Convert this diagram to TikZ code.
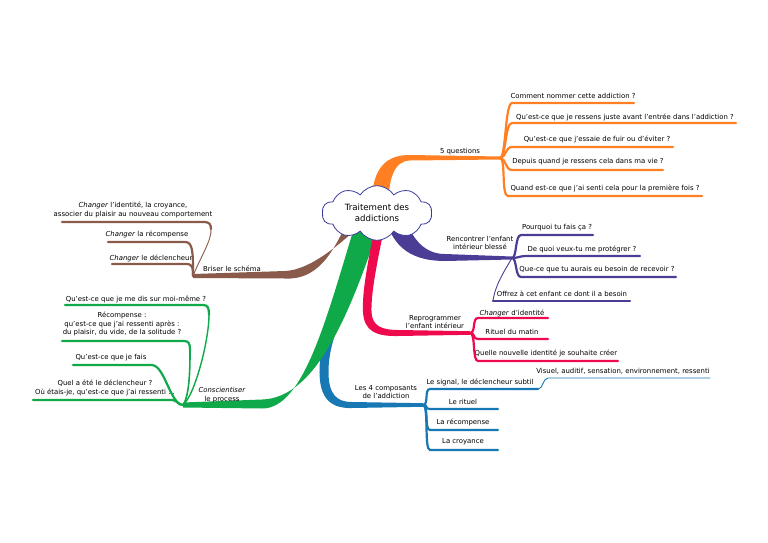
\documentclass[tikz,border=0pt]{standalone}
\usepackage{fontspec}
\setmainfont{DejaVu Sans}
\usetikzlibrary{shapes.symbols}
\definecolor{orng}{HTML}{FF7F22}
\definecolor{purp}{HTML}{4B3D95}
\definecolor{redd}{HTML}{EE0A4C}
\definecolor{blu}{HTML}{1778B4}
\definecolor{grn}{HTML}{10A94A}
\definecolor{brwn}{HTML}{8A5A4A}
\definecolor{cloudc}{HTML}{3C3C9C}

\begin{document}
\begin{tikzpicture}[x=1pt,y=-1pt,
  lbl/.style={font=\fontsize{6.9}{8.8}\selectfont,align=center,inner sep=0pt},
  kid/.style={line width=2.2pt,line cap=round},
  thin/.style={line width=0.9pt,line cap=round}]
  \useasboundingbox (0,0) rectangle (768,543);

  \coordinate (c) at (377,213);
  \coordinate (of) at (500,158);
  \coordinate (pf) at (512,258);
  \coordinate (rf) at (470,333);
  \coordinate (bf) at (423,405);
  \coordinate (gf) at (183,405);
  \coordinate (brf) at (193,276);

  \fill[brwn] (350,215) .. controls (332,258) and (315,280) .. (285,278.5) -- ([yshift=-2pt]brf) -- ([yshift=2pt]brf) -- (285,271) .. controls (310,270) and (340,245) .. (368,218) -- cycle;
  \fill[blu] (369,215) .. controls (345,290) and (320,330) .. (319.5,370) .. controls (319,401) and (333,408.5) .. (352,408) -- ([yshift=-1.8pt]bf) -- ([yshift=1.8pt]bf) -- (352,402) .. controls (338,402) and (328,396) .. (328.5,370) .. controls (329,332) and (355,290) .. (380,215) -- cycle;
  \fill[grn] (358,215) .. controls (328,312) and (305,409) .. (262,408.5) -- ([yshift=-2.5pt]gf) -- ([yshift=2.5pt]gf) -- (262,399.5) .. controls (318,398) and (352,308) .. (383,215) -- cycle;
  \fill[redd] (377,215) .. controls (368,262) and (362,290) .. (363,312) .. controls (364,331) and (376,336.5) .. (398,336) -- ([yshift=-1.8pt]rf) -- ([yshift=1.8pt]rf) -- (398,330) .. controls (382,330) and (372,326) .. (371.5,312) .. controls (371,292) and (377,262) .. (387,215) -- cycle;
  \fill[purp] (385,215) .. controls (392,250) and (415,261) .. (445,261) -- ([yshift=-1.5pt]pf) -- ([yshift=1.5pt]pf) -- (445,254) .. controls (425,254) and (412,240) .. (404,215) -- cycle;
  \fill[orng] (371,212) .. controls (371,172) and (382,155) .. (410,155) -- ([yshift=1.5pt]of) -- ([yshift=-1.5pt]of) -- (410,160.5) .. controls (394,161) and (388,178) .. (388,212) -- cycle;

  \node[cloud,cloud puffs=10,cloud puff arc=115,aspect=2.3,draw=cloudc,fill=white,line width=0.8pt,
    minimum width=110pt,minimum height=46pt,inner sep=1pt,align=center,
    font=\fontsize{8.6}{11}\selectfont] (root) at (c) {Traitement des\\addictions};

  \node[lbl] (oq) at (460,152) {5 questions};
  \node[lbl] (q1) at (573,96) {Comment nommer cette addiction ?};
  \node[lbl] (q2) at (625,117) {Qu'est-ce que je ressens juste avant l'entrée dans l'addiction ?};
  \node[lbl] (q3) at (597,139) {Qu'est-ce que j'essaie de fuir ou d'éviter ?};
  \node[lbl] (q4) at (588,162) {Depuis quand je ressens cela dans ma vie ?};
  \node[lbl] (q5) at (605,188) {Quand est-ce que j'ai senti cela pour la première fois ?};
  \coordinate (q1a) at (512,103); \coordinate (q1b) at (634,103);
  \coordinate (q2a) at (512,123); \coordinate (q2b) at (736,123);
  \coordinate (q3a) at (512,147); \coordinate (q3b) at (673,147);
  \coordinate (q4a) at (512,170); \coordinate (q4b) at (663,170);
  \coordinate (q5a) at (508,196); \coordinate (q5b) at (702,196);
  \draw[kid,orng] (of) .. controls +(6,0) and +(-7,0) .. (q1a) -- (q1b);
  \draw[kid,orng] (of) .. controls +(6,0) and +(-7,0) .. (q2a) -- (q2b);
  \draw[kid,orng] (of) .. controls +(6,0) and +(-7,0) .. (q3a) -- (q3b);
  \draw[kid,orng] (of) .. controls +(6,0) and +(-7,0) .. (q4a) -- (q4b);
  \draw[kid,orng] (of) .. controls +(6,0) and +(-7,0) .. (q5a) -- (q5b);

  \node[lbl] (pe) at (480,243) {Rencontrer l'enfant\\intérieur blessé};
  \node[lbl] (p1) at (557,228) {Pourquoi tu fais ça ?};
  \node[lbl] (p2) at (582,249) {De quoi veux-tu me protégrer ?};
  \node[lbl] (p3) at (597,270) {Que-ce que tu aurais eu besoin de recevoir ?};
  \node[lbl] (p4) at (562,294) {Offrez à cet enfant ce dont il a besoin};
  \coordinate (p1a) at (521,235); \coordinate (p1b) at (593,235);
  \coordinate (p2a) at (526,256); \coordinate (p2b) at (640,256);
  \coordinate (p3a) at (521,277); \coordinate (p3b) at (676,277);
  \coordinate (p4a) at (493,301); \coordinate (p4b) at (630,301);
  \draw[kid,purp] (pf) .. controls +(5,0) and +(-6,0) .. (p1a) -- (p1b);
  \draw[kid,purp] (pf) .. controls +(6,0) and +(-6,0) .. (p2a) -- (p2b);
  \draw[kid,purp] (pf) .. controls +(5,0) and +(-6,0) .. (p3a) -- (p3b);
  \draw[thin,purp] (pf) .. controls (505,270) and (495,285) .. (p4a);
  \draw[kid,purp] (p4a) -- (p4b);

  \node[lbl] (re) at (435,322) {Reprogrammer\\l'enfant intérieur};
  \node[lbl] (r1) at (512,313) {\textit{Changer} d'identité};
  \node[lbl] (r2) at (512,332) {Rituel du matin};
  \node[lbl] (r3) at (546,353) {Quelle nouvelle identité je souhaite créer};
  \coordinate (r1a) at (478,318); \coordinate (r1b) at (548,318);
  \coordinate (r2a) at (478,339); \coordinate (r2b) at (548,339);
  \coordinate (r3a) at (478,361); \coordinate (r3b) at (618,361);
  \draw[kid,redd] (rf) .. controls +(6,0) and +(-6,0) .. (r1a) -- (r1b);
  \draw[kid,redd] (rf) .. controls +(6,0) and +(-6,0) .. (r2a) -- (r2b);
  \draw[kid,redd] (rf) .. controls +(6,0) and +(-6,0) .. (r3a) -- (r3b);

  \node[lbl] (bc) at (386,392) {Les 4 composants\\de l'addiction};
  \node[lbl] (b1) at (480,382) {Le signal, le déclencheur subtil};
  \node[lbl] (b5) at (623,371) {Visuel, auditif, sensation, environnement, ressenti};
  \node[lbl] (b2) at (463,402) {Le rituel};
  \node[lbl] (b3) at (463,422) {La récompense};
  \node[lbl] (b4) at (463,442) {La croyance};
  \coordinate (b1a) at (430,389); \coordinate (b1b) at (538,389);
  \coordinate (b5a) at (548,378); \coordinate (b5b) at (710,378);
  \coordinate (b2a) at (430,409); \coordinate (b2b) at (498,409);
  \coordinate (b3a) at (430,430); \coordinate (b3b) at (498,430);
  \coordinate (b4a) at (430,450); \coordinate (b4b) at (498,450);
  \draw[kid,blu] (bf) .. controls +(6,0) and +(-6,0) .. (b1a) -- (b1b);
  \draw[thin,blu] (b1b) .. controls +(5,0) and +(-5,0) .. (b5a) -- (b5b);
  \draw[kid,blu] (bf) .. controls +(6,0) and +(-6,0) .. (b2a) -- (b2b);
  \draw[kid,blu] (bf) .. controls +(6,0) and +(-6,0) .. (b3a) -- (b3b);
  \draw[kid,blu] (bf) .. controls +(6,0) and +(-6,0) .. (b4a) -- (b4b);

  \node[lbl] (bs) at (232,269) {Briser le schéma};
  \node[lbl] (s1) at (133,210) {\textit{Changer} l'identité, la croyance,\\associer du plaisir au nouveau comportement};
  \node[lbl] (s2) at (147,234) {\textit{Changer} la récompense};
  \node[lbl] (s3) at (151,258) {\textit{Changer} le déclencheur};
  \coordinate (s1c) at (211,229);
  \coordinate (s1a) at (204,222); \coordinate (s1b) at (62,222);
  \coordinate (s2a) at (185,242); \coordinate (s2b) at (108,242);
  \coordinate (s3a) at (186,264); \coordinate (s3b) at (112,264);
  \draw[thin,brwn] (brf) .. controls (200,258) and (212,240) .. (s1c);
  \draw[kid,brwn] (s1c) .. controls (211,224) and (209,222) .. (s1a) -- (s1b);
  \draw[kid,brwn] (brf) .. controls (193,252) and (193,242) .. (s2a) -- (s2b);
  \draw[kid,brwn] (brf) .. controls (193,268) and (193,264) .. (s3a) -- (s3b);

  \node[lbl] (gc) at (222,395) {\textit{Conscientiser}\\le process};
  \node[lbl] (g1) at (136,299) {Qu'est-ce que je me dis sur moi-même ?};
  \node[lbl] (g2) at (122,324) {Récompense :\\qu'est-ce que j'ai ressenti après :\\du plaisir, du vide, de la solitude ?};
  \node[lbl] (g3) at (111,358) {Qu'est-ce que je fais};
  \node[lbl] (g4) at (105,388) {Quel a été le déclencheur ?\\Où étais-je, qu'est-ce que j'ai ressenti ...};
  \coordinate (g1c) at (209,315);
  \coordinate (g1a) at (203,305); \coordinate (g1b) at (65,305);
  \coordinate (g2c) at (190,350);
  \coordinate (g2a) at (184,341); \coordinate (g2b) at (62,341);
  \coordinate (g3a) at (152,365); \coordinate (g3b) at (73,365);
  \coordinate (g4a) at (172,400); \coordinate (g4b) at (33,400);
  \draw[grn,line width=1.4pt] (gf) .. controls (195,395) and (209,340) .. (g1c);
  \draw[kid,grn] (g1c) .. controls (209,308) and (208,305) .. (g1a) -- (g1b);
  \draw[grn,line width=1.6pt] (gf) .. controls (190,395) and (190,365) .. (g2c);
  \draw[kid,grn] (g2c) .. controls (190,344) and (189,341) .. (g2a) -- (g2b);
  \draw[kid,grn] (gf) .. controls (170,404) and (165,366) .. (g3a) -- (g3b);
  \draw[kid,grn] (gf) .. controls +(-5,0) and +(5,0) .. (g4a) -- (g4b);
\end{tikzpicture}
\end{document}
